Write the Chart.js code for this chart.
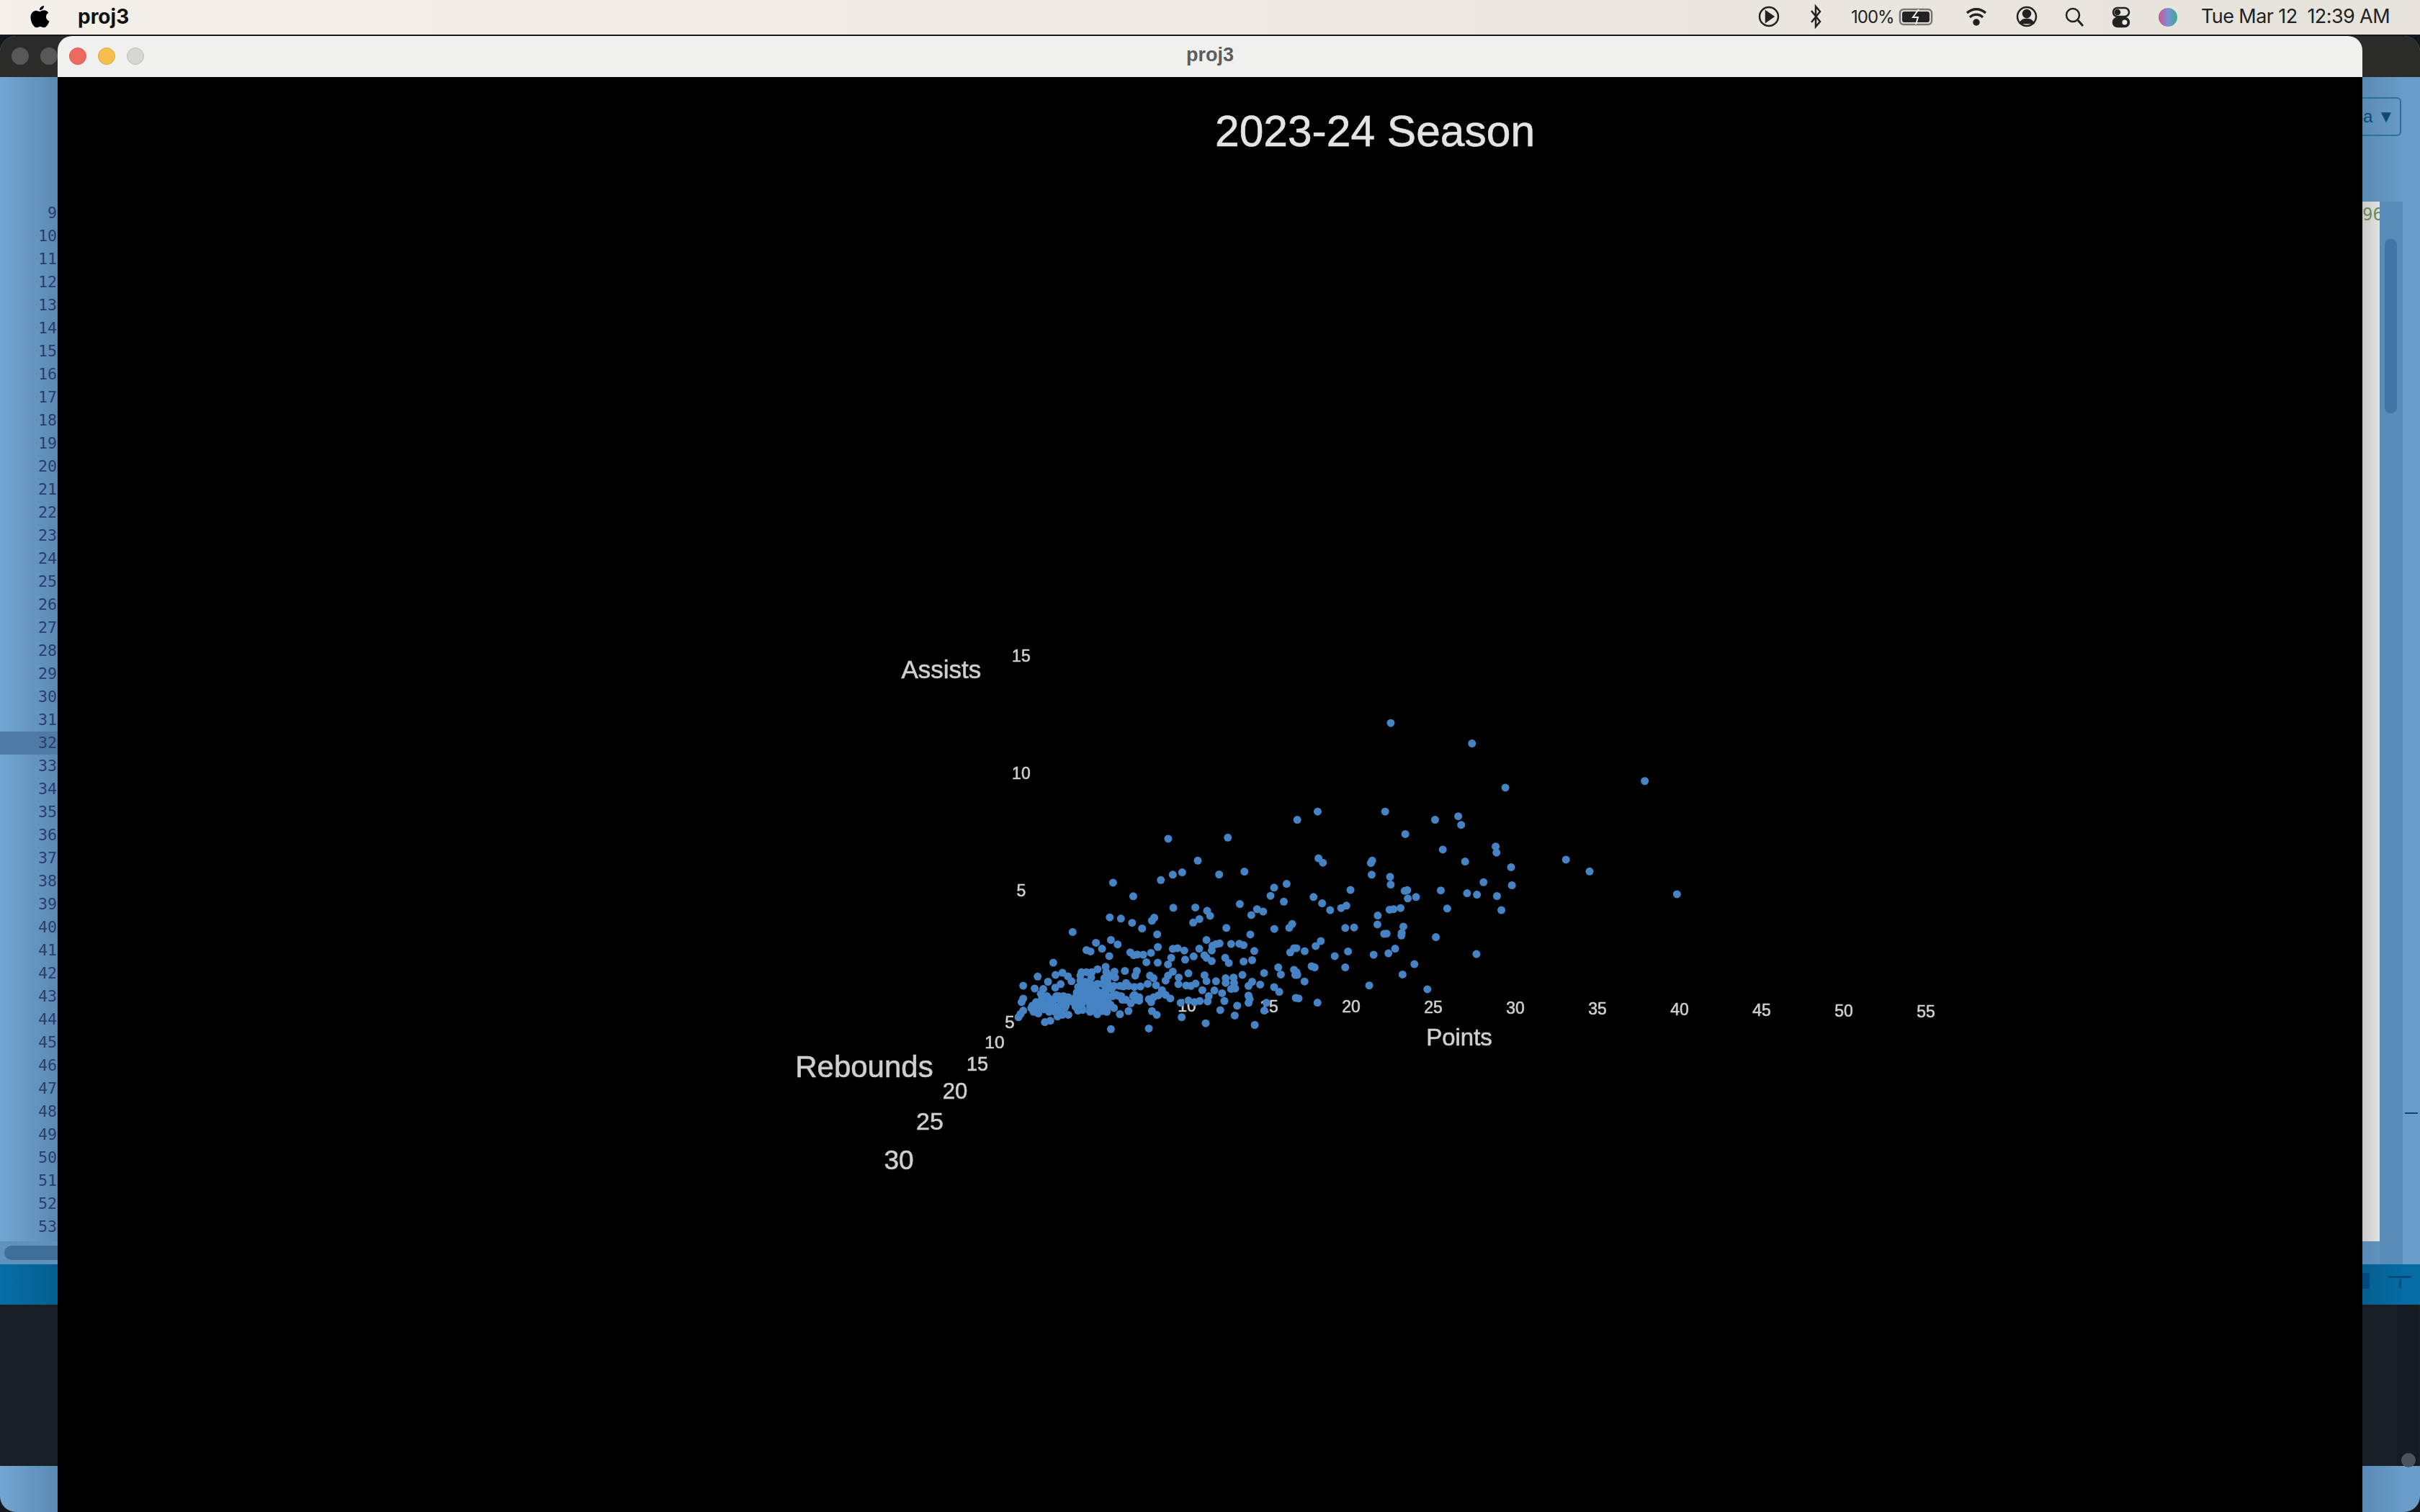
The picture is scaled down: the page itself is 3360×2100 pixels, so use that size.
<!DOCTYPE html>
<html><head><meta charset="utf-8"><title>proj3</title>
<script src="https://cdn.jsdelivr.net/npm/chart.js@4"></script>
<style>
html,body{margin:0;padding:0;width:3360px;height:2100px;overflow:hidden;background:#14171c;font-family:"Liberation Sans",Arial,sans-serif}
.abs{position:absolute}
#menubar{left:0;top:0;width:3360px;height:48px;background:linear-gradient(90deg,#f2f0e8,#e5e3db)}
#backwin{left:0;top:50px;width:3360px;height:2050px;border-radius:22px;overflow:hidden;background:linear-gradient(90deg,#74a6d3 0,#5a8ab4 80px,#5a8ab4 3280px,#6a9dca 3340px)}
#backbar{left:0;top:0;width:3360px;height:57px;background:#2b2b2a}
.ln{position:absolute;width:79px;left:0;text-align:right;font:21.7px "DejaVu Sans Mono",monospace;color:#2d3d6b;line-height:32px}
#front{left:80px;top:50px;width:3200px;height:57px;background:#f0f0ee;border-radius:20px 20px 0 0}
#wintitle{left:80px;top:50px;width:3200px;height:57px;line-height:52px;text-align:center;font:bold 27px/52px "Liberation Sans",sans-serif;color:#5c5c5c}
.dot{position:absolute;width:24px;height:24px;border-radius:50%;box-sizing:border-box}
#chartwrap{left:80px;top:107px;width:3200px;height:1993px;background:#000}
</style></head><body>
<div id="backwin" class="abs">
  <div id="backbar" class="abs"></div>
  <div class="abs dot" style="left:16px;top:16px;background:#585858"></div>
  <div class="abs dot" style="left:56px;top:16px;background:#585858"></div>
  <div class="abs" style="left:0;top:966px;width:80px;height:32px;background:#4d7ba5"></div>
  <div id="lines"></div>
  <div class="abs" style="left:0;top:1674px;width:80px;height:32px;background:#5f91bd"></div>
  <div class="abs" style="left:6px;top:1680px;width:74px;height:20px;border-radius:10px 0 0 10px;background:#3f6f99"></div>
  <div class="abs" style="left:0;top:1706px;width:3360px;height:56px;background:linear-gradient(90deg,#066fa6,#055f8f 80px,#055f8f 3280px,#066ca3 3340px)"></div>
  <div class="abs" style="left:0;top:1762px;width:3360px;height:224px;background:#181f27"></div>
  <div class="abs" style="left:3328px;top:1762px;width:30px;height:224px;background:#141b22"></div>
  <div class="abs" style="left:3334px;top:1968px;width:20px;height:20px;border-radius:50%;background:#4a525e"></div>
  <div class="abs" style="left:3280px;top:230px;width:24px;height:1444px;background:linear-gradient(90deg,#c9c9c9,#e3e3e3)"></div>
  <div class="abs" style="left:3304px;top:230px;width:32px;height:1476px;background:#5a8cb9"></div>
  <div class="abs" style="left:3311px;top:282px;width:17px;height:242px;border-radius:8px;background:#3f76a6"></div>
  <div class="abs" style="left:3280px;top:85px;width:54px;height:54px;box-sizing:border-box;border:2px solid #2f6f9c;border-left:none;border-radius:0 6px 6px 0;font:24px/50px 'Liberation Sans',sans-serif;color:#0c4a73;padding-left:1px">a&nbsp;▼</div>
  <div class="abs" style="left:3280px;top:232px;width:24px;font:24px/32px 'DejaVu Sans Mono',monospace;color:#6b8a5a;overflow:hidden;white-space:nowrap">96</div>
  <div class="abs" style="left:3339px;top:1495px;width:18px;height:2px;background:#0b4a70"></div>
  <div class="abs" style="left:3316px;top:1722px;width:32px;height:3px;background:#054a7c"></div>
  <div class="abs" style="left:3331px;top:1727px;width:3px;height:12px;background:#054a7c"></div>
  <div class="abs" style="left:3280px;top:1718px;width:10px;height:22px;background:#054a7c"></div>
</div>
<div id="menubar" class="abs">
  <svg class="abs" style="left:40px;top:7px" width="30" height="34" viewBox="0 0 30 34"><path fill="#000" d="M21 1c.3 3-2.6 6.4-6 6.1-.4-3 2.7-6 6-6.1zM15 9c1.500 0 3.500-1.700 6-1.700 2.700 0 5 1.300 6.300 3.400-5 3-4 9.700 1.200 11.800-1.400 3.800-4.300 8.800-7.300 8.800-1.900 0-3-1.300-5.200-1.300s-3.500 1.300-5.300 1.300c-3.600 0-8.200-7.500-8.200-14 0-6 3.800-9.600 7.700-9.600 2 0 3.500 1.300 4.800 1.300z"/></svg>
  <div class="abs" style="left:108px;top:6px;font:bold 28px/34px 'Inter','Liberation Sans',sans-serif;color:#111">proj3</div>
  <svg class="abs" style="left:2440px;top:4px" width="600" height="42" viewBox="2440 4 600 42" fill="none" stroke="#222" stroke-width="2.500">
    <circle cx="2456" cy="23" r="13"/><path d="M2452 16l10 7-10 7z" fill="#222"/>
    <path d="M2515 15l12 15-6 7V9l6 7-12 15"/>
    <rect x="2638" y="13" width="44" height="21" rx="5" stroke="#777"/><rect x="2641" y="16" width="38" height="15" rx="3" fill="#222" stroke="none"/><path d="M2664 13l-8 11h7l-3 10" stroke="#eee" stroke-width="2"/>
    <path d="M2731 18c8-7 18-7 26 0M2735 24c5-5 13-5 18 0" stroke-width="3.500"/><circle cx="2744" cy="31" r="3.500" fill="#222"/>
    <circle cx="2814" cy="23" r="13"/><circle cx="2814" cy="19" r="5" fill="#222"/><path d="M2805 32c3-7 15-7 18 0z" fill="#222"/>
    <circle cx="2878" cy="21" r="9"/><path d="M2885 28l7 8" stroke-width="3"/>
    <rect x="2934" y="11" width="22" height="12" rx="6"/><circle cx="2940" cy="17" r="3" fill="#222"/><rect x="2934" y="25" width="22" height="12" rx="6" fill="#222"/><circle cx="2950" cy="31" r="3.500" fill="#eee" stroke="none"/>
    <defs><linearGradient id="siri" x1="0" x2="1"><stop offset="0" stop-color="#d0558f"/><stop offset=".5" stop-color="#7b8fd8"/><stop offset="1" stop-color="#3aa98e"/></linearGradient></defs>
    <circle cx="3010" cy="24" r="13" fill="url(#siri)" stroke="none"/>
  </svg>
  <div class="abs" style="left:2570px;top:8px;font:24px/32px 'Inter','Liberation Sans',sans-serif;color:#222;letter-spacing:-1px">100%</div>
  <div class="abs" style="left:3056px;top:7px;font:27px/32px 'Inter','Liberation Sans',sans-serif;color:#222;white-space:pre;letter-spacing:-.6px">Tue Mar 12  12:39 AM</div>
</div>
<div id="front" class="abs"></div>
<div id="wintitle" class="abs">proj3</div>
<div class="abs dot" style="left:96px;top:66px;background:#ee6a5f;border:1px solid #d9584e"></div>
<div class="abs dot" style="left:136px;top:66px;background:#f5bf4f;border:1px solid #dba63c"></div>
<div class="abs dot" style="left:176px;top:66px;background:#d6d6d4;border:1px solid #bdbdbb"></div>
<div id="chartwrap" class="abs"><canvas id="c" width="3200" height="1993" style="display:block"></canvas></div>
<script>
const lineFirst = 9, lineLast = 53;
const holder = document.getElementById('lines');
for (let n = lineFirst; n <= lineLast; n++) {
  const d = document.createElement('div');
  d.className = 'ln'; d.textContent = n; d.style.top = (230 + (n - lineFirst) * 32) + 'px';
  holder.appendChild(d);
}
</script>
<script>
// Values: Points (horizontal), Assists (vertical)
const pointsValues = [
22.41,27.36,29.39,37.88,22.07,17.96,16.72,25.11,26.52,26.70,23.30,25.58,28.80,28.85,26.94,29.74,33.08,34.52,39.84,18.01,18.28,21.28,21.20,21.25,22.37,22.41,19.96,17.71,18.23,18.72,19.39,19.71,23.42,23.26,23.45,23.95,25.46,27.06,27.66,28.06,28.88,29.79,29.15,25.85,23.01,22.58,22.34,21.62,21.60,19.64,20.18,23.18,23.08,23.06,22.01,22.16,25.16,18.15,17.84,17.17,19.00,19.81,21.37,22.27,22.68,27.63,23.85,23.13,19.64,17.59,17.78,17.16,21.10,24.64,16.80,17.95,16.67,16.72,16.67,
8.86,12.49,10.66,9.71,9.14,8.41,11.96,13.50,15.31,16.07,15.09,15.90,5.50,6.73,9.17,10.51,13.22,11.23,11.41,14.27,14.64,13.92,10.76,10.38,5.30,5.98,6.66,8.01,7.87,7.27,12.40,15.32,16.41,16.23,3.04,8.19,13.86,5.37,4.46,5.78,11.19,11.99,11.77,11.55,11.51,12.69,13.19,13.45,4.83,3.88,4.13,8.23,9.14,9.43,9.84,10.75,14.10,16.52,16.29,5.27,6.55,6.76,6.99,7.34,7.81,7.53,8.22,9.04,8.85,9.89,10.41,11.06,11.19,11.51,12.33,12.55,13.45,13.97,15.56,15.72,16.52,16.60,1.86,6.22,6.95,6.85,14.70,13.38,10.09,9.14,8.85,8.70,11.07,11.19,9.50,9.48,11.77,12.36,12.36,12.84,12.87,12.94,12.69,13.97,13.75,14.46,15.31,15.62,16.63,9.95,10.24,10.53,10.94,11.67,11.33,12.14,13.75,13.82,13.75,12.28,11.26,10.78,10.46,10.09,9.62,13.06,12.03,14.84,14.71,12.91,9.68,11.14,14.13,7.68,5.37,7.87,8.16,6.44,5.56,5.92,1.35,1.68,
0.03,0.91,0.73,1.54,2.00,2.42,2.75,2.97,2.31,1.98,1.10,1.47,0.03,-0.07,0.03,-0.14,-0.26,
0.59,0.81,1.03,0.66,0.95,1.25,1.47,1.68,1.90,2.20,2.49,2.78,2.93,2.63,2.34,2.05,1.76,2.12,2.34,2.56,2.78,1.32,0.52,1.98,2.27,1.25,
3.58,3.88,4.21,4.56,5.05,5.09,5.59,5.63,4.17,3.51,5.19,3.37,3.69,4.10,4.46,4.83,5.19,5.56,5.92,6.29,6.44,6.80,7.17,7.61,7.75,7.97,8.12,8.48,8.70,8.99,8.26,7.97,7.68,7.82,7.09,7.09,6.80,6.58,6.29,6.00,5.70,5.49,
3.29,3.58,3.95,4.32,4.68,5.05,3.22,3.51,3.88,4.17,4.54,4.90,5.27,3.29,3.66,4.02,4.39,4.75,5.12,3.22,3.58,4.10,4.46,4.83,5.19,4.10,4.54,5.12,3.51,3.88,4.24,
3.15,3.37,3.66,4.32,4.83,5.34,5.85,6.07,6.73,6.87,5.05,5.41,4.54,4.10,3.80,3.51,4.97,5.34,6.14,1.17,1.61,0.81,1.61,2.42,2.05,2.63
];
const assistsValues = [
12.11,11.24,9.36,9.64,8.34,8.34,7.99,7.99,8.14,7.77,7.38,6.72,6.85,6.59,6.21,5.97,6.29,5.79,4.82,6.35,6.16,6.25,6.15,5.65,5.56,5.23,5.00,4.70,4.43,4.14,4.23,4.33,4.99,4.96,4.64,4.70,4.98,4.86,4.80,5.33,4.74,5.20,4.14,4.21,4.23,4.18,4.16,3.91,3.53,3.38,3.40,3.44,3.17,3.06,3.13,3.14,2.99,2.82,2.61,2.39,2.18,2.38,2.24,2.30,2.50,2.27,1.84,1.40,1.70,1.75,1.70,1.10,0.93,0.77,0.38,0.20,1.50,1.38,2.52,
7.18,7.23,6.25,5.75,5.65,5.42,5.66,5.78,5.10,5.26,4.75,4.50,5.31,4.73,4.24,4.25,4.40,4.11,3.90,4.18,4.08,3.93,3.76,3.61,3.83,3.78,3.60,3.82,3.69,3.36,3.38,3.34,3.55,3.39,3.21,3.11,3.10,2.87,2.75,2.68,2.87,2.72,2.69,2.62,2.42,2.70,2.71,2.65,2.50,2.44,2.38,2.57,2.49,2.52,2.42,2.50,2.40,2.52,2.34,2.18,2.34,2.22,2.25,2.24,2.32,1.92,1.90,2.11,1.83,2.03,2.17,2.22,2.11,1.97,2.11,1.89,1.95,2.01,1.70,1.40,1.60,1.38,1.90,1.55,1.55,1.35,1.46,1.38,1.45,1.52,1.35,1.14,1.37,1.12,1.27,0.99,1.11,1.24,1.04,1.27,1.04,0.80,0.78,1.09,0.91,0.97,0.86,0.66,0.40,0.93,0.91,1.01,0.73,0.72,0.48,0.60,0.50,0.35,0.19,0.27,0.25,0.27,0.22,0.29,0.19,0.07,-0.12,0.19,-0.14,-0.35,-0.42,-0.68,-0.75,-0.90,-0.93,-0.16,-0.32,-0.16,-0.03,-0.29,-0.63,-0.57,
0.92,1.31,0.80,1.09,1.38,1.47,1.32,1.11,0.99,0.84,0.58,0.48,0.37,0.22,-0.14,-0.29,-0.42,
0.07,0.22,0.02,-0.19,-0.26,0.17,0.02,0.17,0.32,0.48,0.48,0.43,0.27,0.07,0.17,0.02,-0.09,-0.39,-0.14,-0.03,-0.32,-0.09,-0.03,-0.19,0.32,0.78,
1.50,1.50,1.50,1.62,1.73,1.50,1.52,1.27,1.27,1.14,1.24,0.87,0.91,0.87,0.76,1.00,1.01,0.91,0.91,1.04,0.91,0.87,0.89,1.00,1.35,1.24,0.94,0.73,0.53,0.38,0.51,0.43,0.35,0.22,0.43,0.28,0.53,0.17,0.32,0.48,0.53,0.48,
0.63,0.63,0.63,0.63,0.63,0.63,0.43,0.43,0.43,0.43,0.43,0.43,0.43,0.22,0.22,0.22,0.22,0.22,0.22,0.02,0.02,0.02,0.02,0.02,0.02,-0.19,-0.29,-0.19,0.78,0.78,0.78,
0.17,-0.14,-0.11,-0.14,-0.16,0.12,0.48,0.32,0.48,0.32,0.78,0.78,1.00,1.04,1.09,1.35,1.24,1.35,0.89,0.37,0.37,-0.03,-0.19,-0.32,0.48,0.27
];

const pointTicks = [5,10,15,20,25,30,35,40,45,50,55];
const assistTicks = [5,10,15];
const reboundTicks = ['5','10','15','20','25','30'];
// where each rebounds tick falls, in (points, assists) units of the projected plane
const reboundAtX = [-0.79,-1.71,-2.76,-4.12,-5.66,-7.54];
const reboundAtY = [-0.70,-1.53,-2.48,-3.62,-4.92,-6.59];
const reboundFont = [24,24.5,27,31,34,37];

const chartTitle = '2023-24 Season';
const axisNames = ['Points','Assists','Rebounds'];
const axisNameX = [26.58,-4.96,-9.65];
const axisNameY = [-1.35,14.30,-2.61];
const axisNameFont = [33,35,42];

const textColor = '#cfcfcf';

const overlay = {
  id:'overlay',
  beforeDatasetsDraw(chart){
    const {ctx, scales:{x,y}} = chart;
    ctx.save();
    ctx.fillStyle = textColor; ctx.strokeStyle = textColor; ctx.lineWidth = .6;
    ctx.textAlign='center'; ctx.textBaseline='middle';
    const put = (t,font,px,py)=>{ ctx.font=font; const a=x.getPixelForValue(px), b=y.getPixelForValue(py); ctx.fillText(t,a,b); ctx.strokeText(t,a,b); };
    reboundTicks.forEach((t,i)=>put(t, reboundFont[i]+'px "Liberation Sans"', reboundAtX[i], reboundAtY[i]));
    axisNames.forEach((t,i)=>put(t, axisNameFont[i]+'px "Liberation Sans"', axisNameX[i], axisNameY[i]));
    ctx.fillStyle = '#e4e4e4'; ctx.strokeStyle = '#e4e4e4';
    put(chartTitle, '60.5px "Liberation Sans"', 21.45, 37.19);
    ctx.restore();
  }
};

// the Points axis tilts slightly in perspective: labels further right sit a little lower
function tiltLabels(scale, perUnit, pivot){
  if (scale._tilted) return;
  scale._tilted = true;
  const orig = scale._computeLabelItems;
  scale._computeLabelItems = function(area){
    const items = orig.call(this, area);
    items.forEach((it,i)=>{ it.options.translation[1] += (this.ticks[i].value - pivot) * perUnit; });
    return items;
  };
}
// the Assists labels are centred on their axis rather than right-aligned
function centreLabels(scale, shiftDown){
  if (scale._centred) return;
  scale._centred = true;
  const orig = scale._computeLabelItems;
  scale._computeLabelItems = function(area){
    const items = orig.call(this, area);
    items.forEach(it=>{ it.options.textAlign = 'center'; it.options.translation[1] += shiftDown; });
    return items;
  };
}

new Chart(document.getElementById('c'), {
  type:'scatter',
  data:{ datasets:[{
    label:'Players',
    data: pointsValues.map((v,i)=>({x:v,y:assistsValues[i]})),
    backgroundColor:'#4583c4', borderWidth:0, pointRadius:5.5, pointHoverRadius:5.5
  }]},
  options:{
    responsive:false, animation:false, maintainAspectRatio:false,
    layout:{padding:0, autoPadding:false},
    events:[],
    plugins:{legend:{display:false},title:{display:false},tooltip:{enabled:false}},
    scales:{
      x:{ type:'linear', min:-58.77, max:81.58, position:{y:0.58},
        grid:{display:false}, border:{display:false},
        afterBuildTicks:s=>{s.ticks=pointTicks.map(v=>({value:v}));},
        afterFit:s=>{s.height=0;s.paddingLeft=0;s.paddingRight=0;s.paddingTop=0;s.paddingBottom=0;tiltLabels(s,0.18,30);},
        ticks:{autoSkip:false,maxRotation:0,minRotation:0,padding:0,color:textColor,textStrokeColor:textColor,textStrokeWidth:.6,font:{family:'"Liberation Sans"',size:23},callback:v=>String(v)}
      },
      y:{ type:'linear', min:-21.50, max:39.63, position:{x:-0.09},
        grid:{display:false}, border:{display:false},
        afterBuildTicks:s=>{s.ticks=assistTicks.map(v=>({value:v}));},
        afterFit:s=>{s.width=0;s.paddingLeft=0;s.paddingRight=0;s.paddingTop=0;s.paddingBottom=0;centreLabels(s,3);},
        ticks:{autoSkip:false,crossAlign:'center',padding:0,color:textColor,textStrokeColor:textColor,textStrokeWidth:.6,font:{family:'"Liberation Sans"',size:23},callback:v=>String(v)}
      }
    }
  },
  plugins:[overlay]
});
</script>
</body></html>
